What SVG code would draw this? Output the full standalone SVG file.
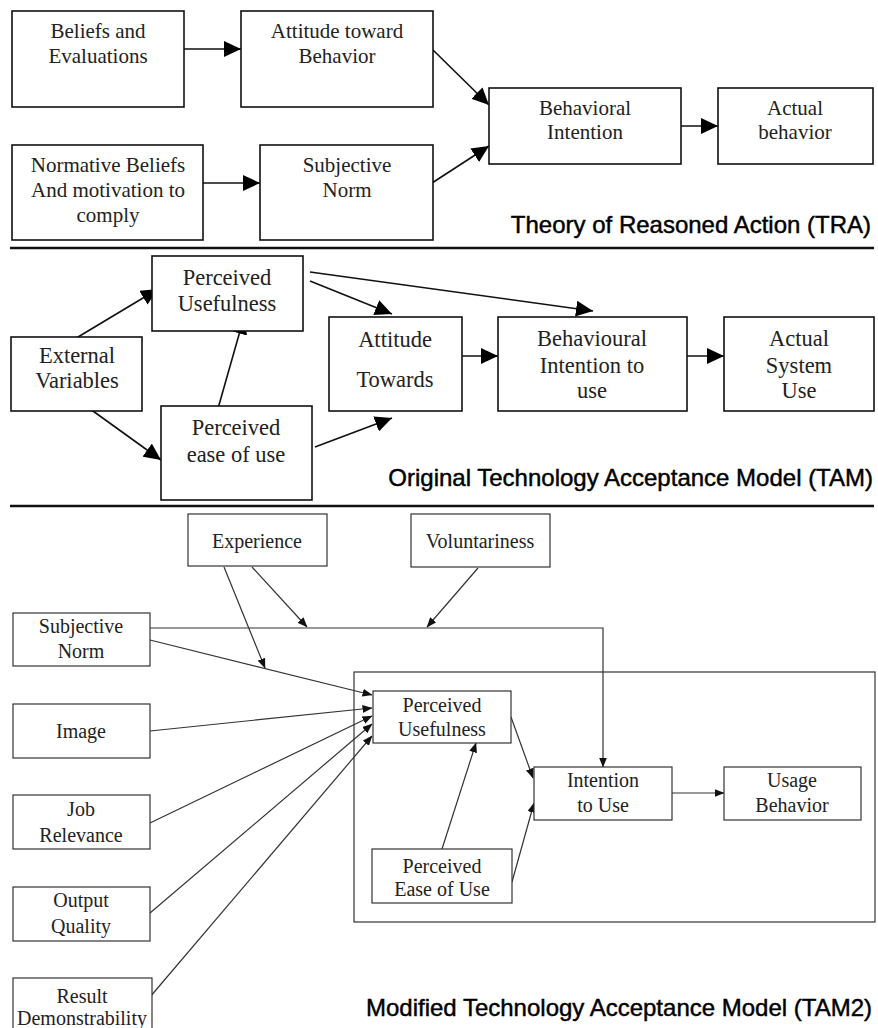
<svg xmlns="http://www.w3.org/2000/svg" width="878" height="1028" viewBox="0 0 878 1028">
<style>
.bx{fill:#fff;stroke:#111;stroke-width:1.6}
.bx2{fill:#fff;stroke:#333;stroke-width:1.2}
.t1{font-family:"Liberation Serif",serif;font-size:21px;fill:#222;text-anchor:middle}
.t2{font-family:"Liberation Serif",serif;font-size:22.5px;fill:#222;text-anchor:middle}
.t3{font-family:"Liberation Serif",serif;font-size:20px;fill:#222;text-anchor:middle}
.ttl{font-family:"Liberation Sans",Arial,sans-serif;font-size:24px;fill:#000;stroke:#000;stroke-width:0.45;text-anchor:end}
.c1{fill:none;stroke:#111;stroke-width:1.6;marker-end:url(#big)}
.c2{fill:none;stroke:#333;stroke-width:1.2;marker-end:url(#small)}
.sep{stroke:#111;stroke-width:2.5}
</style>
<defs>
<marker id="big" markerUnits="userSpaceOnUse" markerWidth="18" markerHeight="16" refX="17" refY="8" orient="auto" viewBox="0 0 18 16"><path d="M0,0 L17,8 L0,16 z" fill="#000"/></marker>
<marker id="small" markerUnits="userSpaceOnUse" markerWidth="10" markerHeight="8" refX="9.5" refY="4" orient="auto" viewBox="0 0 10 8"><path d="M0,0 L10,4 L0,8 z" fill="#111"/></marker>
</defs>
<rect width="878" height="1028" fill="#fff"/>

<g id="connectors">
<line class="c1" x1="184" y1="49" x2="241" y2="49"/>
<line class="c1" x1="203" y1="183" x2="260" y2="183"/>
<line class="c1" x1="432" y1="49" x2="489" y2="105"/>
<line class="c1" x1="432" y1="183" x2="489" y2="146"/>
<line class="c1" x1="681" y1="126" x2="718" y2="126"/>

<line class="c1" x1="68" y1="343" x2="158" y2="289"/>
<line class="c1" x1="86" y1="406" x2="161" y2="460"/>
<line class="c1" x1="217" y1="412" x2="244" y2="317"/>
<line class="c1" x1="310" y1="281" x2="392" y2="314"/>
<line class="c1" x1="310" y1="272" x2="593" y2="311"/>
<line class="c1" x1="315" y1="447" x2="392" y2="418"/>
<line class="c1" x1="462" y1="356" x2="498" y2="356"/>
<line class="c1" x1="687" y1="356" x2="724" y2="356"/>

<polyline class="c2" points="150,628 603,628 603,767"/>
<line class="c2" x1="252" y1="567" x2="307" y2="627"/>
<line class="c2" x1="478" y1="568" x2="427" y2="627"/>
<line class="c2" x1="224" y1="567" x2="265" y2="668"/>
<line class="c2" x1="150" y1="640" x2="372" y2="695"/>
<line class="c2" x1="150" y1="731" x2="372" y2="708"/>
<line class="c2" x1="150" y1="823" x2="372" y2="716"/>
<line class="c2" x1="150" y1="913" x2="372" y2="724"/>
<line class="c2" x1="150" y1="997" x2="372" y2="736"/>
<line class="c2" x1="511" y1="717" x2="533" y2="778"/>
<line class="c2" x1="512" y1="882" x2="534" y2="803"/>
<line class="c2" x1="442" y1="849" x2="476" y2="743"/>
<line class="c2" x1="672" y1="793" x2="724" y2="793"/>
</g>

<g id="separators">
<line class="sep" x1="10" y1="248" x2="874" y2="248"/>
<line class="sep" x1="10" y1="506" x2="874" y2="506"/>
</g>

<g id="tra-beliefs"><rect class="bx" x="12" y="11" width="172" height="96"/><text class="t1" x="98" y="38">Beliefs and</text><text class="t1" x="98" y="63">Evaluations</text></g>
<g id="tra-attitude"><rect class="bx" x="241" y="11" width="192" height="96"/><text class="t1" x="337" y="38">Attitude toward</text><text class="t1" x="337" y="63">Behavior</text></g>
<g id="tra-normative"><rect class="bx" x="12" y="145" width="191" height="95"/><text class="t1" x="108" y="172">Normative Beliefs</text><text class="t1" x="108" y="197">And motivation to</text><text class="t1" x="108" y="222">comply</text></g>
<g id="tra-subjective"><rect class="bx" x="260" y="145" width="173" height="95"/><text class="t1" x="347" y="172">Subjective</text><text class="t1" x="347" y="197">Norm</text></g>
<g id="tra-intention"><rect class="bx" x="489" y="88" width="192" height="76"/><text class="t1" x="585" y="115">Behavioral</text><text class="t1" x="585" y="139">Intention</text></g>
<g id="tra-actual"><rect class="bx" x="718" y="88" width="155" height="76"/><text class="t1" x="795" y="115">Actual</text><text class="t1" x="795" y="139">behavior</text></g>
<text id="title-tra" class="ttl" x="871" y="233">Theory of Reasoned Action (TRA)</text>

<g id="tam-pu"><rect class="bx" x="152" y="256" width="151" height="75"/><text class="t2" x="227" y="285">Perceived</text><text class="t2" x="227" y="311">Usefulness</text></g>
<g id="tam-ev"><rect class="bx" x="11" y="337" width="131" height="74"/><text class="t2" x="77" y="363">External</text><text class="t2" x="77" y="388">Variables</text></g>
<g id="tam-peou"><rect class="bx" x="161" y="406" width="151" height="94"/><text class="t2" x="236" y="435">Perceived</text><text class="t2" x="236" y="462">ease of use</text></g>
<g id="tam-at"><rect class="bx" x="329" y="317" width="133" height="94"/><text class="t2" x="395" y="347">Attitude</text><text class="t2" x="395" y="387">Towards</text></g>
<g id="tam-bi"><rect class="bx" x="498" y="317" width="189" height="94"/><text class="t2" x="592" y="346">Behavioural</text><text class="t2" x="592" y="373">Intention to</text><text class="t2" x="592" y="398">use</text></g>
<g id="tam-asu"><rect class="bx" x="724" y="317" width="150" height="94"/><text class="t2" x="799" y="346">Actual</text><text class="t2" x="799" y="373">System</text><text class="t2" x="799" y="398">Use</text></g>
<text id="title-tam" class="ttl" x="873" y="486">Original Technology Acceptance Model (TAM)</text>

<g id="tam2-outer"><rect x="354" y="672" width="521" height="250" fill="none" stroke="#333" stroke-width="1.2"/></g>
<g id="tam2-exp"><rect class="bx2" x="188" y="514" width="139" height="52"/><text class="t3" x="257" y="548">Experience</text></g>
<g id="tam2-vol"><rect class="bx2" x="411" y="514" width="139" height="53"/><text class="t3" x="480" y="548">Voluntariness</text></g>
<g id="tam2-sn"><rect class="bx2" x="13" y="613" width="137" height="53"/><text class="t3" x="81" y="633">Subjective</text><text class="t3" x="81" y="658">Norm</text></g>
<g id="tam2-img"><rect class="bx2" x="13" y="704" width="137" height="54"/><text class="t3" x="81" y="738">Image</text></g>
<g id="tam2-jr"><rect class="bx2" x="13" y="795" width="137" height="54"/><text class="t3" x="81" y="816">Job</text><text class="t3" x="81" y="842">Relevance</text></g>
<g id="tam2-oq"><rect class="bx2" x="13" y="887" width="137" height="54"/><text class="t3" x="81" y="907">Output</text><text class="t3" x="81" y="933">Quality</text></g>
<g id="tam2-rd"><rect class="bx2" x="13" y="978" width="139" height="56"/><text class="t3" x="82" y="1003">Result</text><text class="t3" x="82" y="1025">Demonstrability</text></g>
<g id="tam2-pu"><rect class="bx2" x="373" y="691" width="138" height="52"/><text class="t3" x="442" y="712">Perceived</text><text class="t3" x="442" y="736">Usefulness</text></g>
<g id="tam2-peou"><rect class="bx2" x="372" y="849" width="140" height="54"/><text class="t3" x="442" y="873">Perceived</text><text class="t3" x="442" y="896">Ease of Use</text></g>
<g id="tam2-iu"><rect class="bx2" x="534" y="767" width="138" height="53"/><text class="t3" x="603" y="787">Intention</text><text class="t3" x="603" y="812">to Use</text></g>
<g id="tam2-ub"><rect class="bx2" x="724" y="767" width="137" height="53"/><text class="t3" x="792" y="787">Usage</text><text class="t3" x="792" y="812">Behavior</text></g>
<text id="title-tam2" class="ttl" x="872" y="1016">Modified Technology Acceptance Model (TAM2)</text>
</svg>
